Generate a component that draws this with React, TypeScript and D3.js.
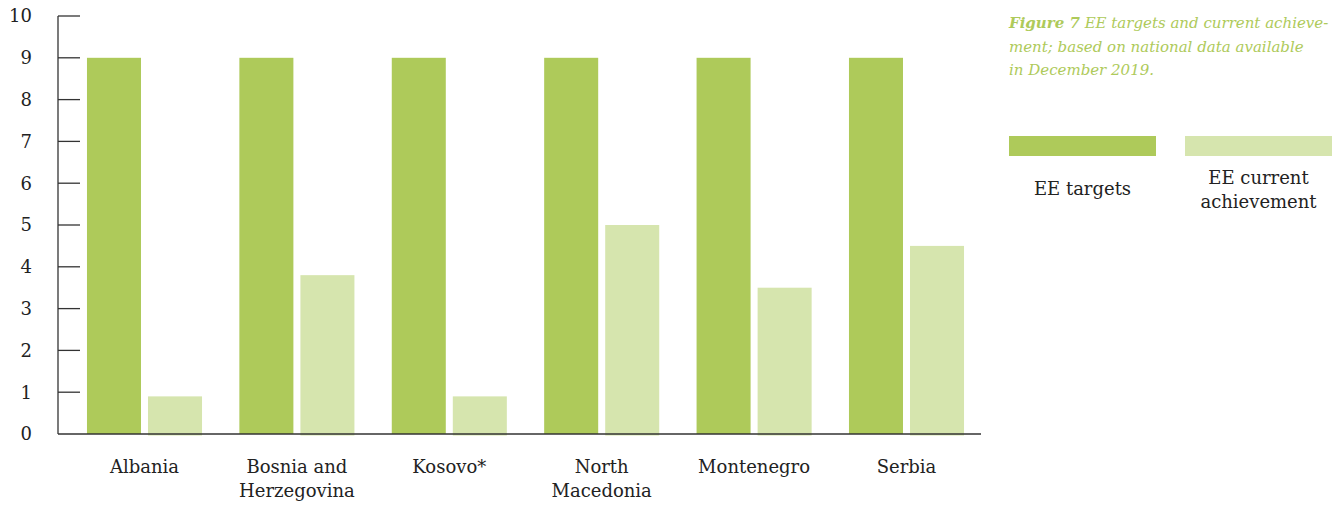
import React from "react";
import * as d3 from "d3";

const categories = ["Albania", "Bosnia and Herzegovina", "Kosovo*", "North Macedonia", "Montenegro", "Serbia"];
const categoryLines = [["Albania"], ["Bosnia and", "Herzegovina"], ["Kosovo*"], ["North", "Macedonia"], ["Montenegro"], ["Serbia"]];
const seriesNames = ["EE targets", "EE current achievement"];
const targets = [9, 9, 9, 9, 9, 9];
const achievement = [0.9, 3.8, 0.9, 5.0, 3.5, 4.5];
const yTicks = [0, 1, 2, 3, 4, 5, 6, 7, 8, 9, 10];
const titleLines = ["EE targets and current achieve-", "ment; based on national data available", "in December 2019."];

const colors = ["#aeca5a", "#d6e5ae"];
const FONT = "'DejaVu Serif', serif";
const TEXT = "#222";

export default function App() {
  const W = 1341, H = 508;
  const y = d3.scaleLinear().domain([0, 10]).range([434, 16]);
  const x0 = d3.scaleBand<string>().domain(categories).range([68.3, 982.7]).paddingInner(0.245).paddingOuter(0.1225);
  const x1 = d3.scaleBand<string>().domain(seriesNames).range([0, x0.bandwidth()]).paddingInner(0.115);
  const data = [targets, achievement];

  return (
    <svg width={W} height={H} style={{ position: "absolute", left: 0, top: 0, background: "#fff" }}>
      {categories.map((c, i) => (
        <g key={c} transform={`translate(${x0(c)},0)`}>
          {seriesNames.map((s, j) => (
            <rect key={s} x={x1(s)} y={y(data[j][i])} width={x1.bandwidth()} height={y(0) - y(data[j][i]) + (j === 1 ? 1.5 : 0)} fill={colors[j]} />
          ))}
        </g>
      ))}
      <line x1={58} x2={58} y1={y(10)} y2={y(0)} stroke="#333" strokeWidth={1.3} />
      <line x1={58} x2={981} y1={y(0)} y2={y(0)} stroke="#333" strokeWidth={1.3} />
      {yTicks.map((t) => (
        <g key={t}>
          {t > 0 && <line x1={58} x2={80} y1={y(t)} y2={y(t)} stroke="#333" strokeWidth={1.3} />}
          <text x={32} y={y(t)} dy="0.35em" textAnchor="end" fontFamily={FONT} fontSize={18} fill={TEXT}>{t}</text>
        </g>
      ))}
      {categories.map((c, i) => (
        <text key={c} x={(x0(c) as number) + x0.bandwidth() / 2} y={473} textAnchor="middle" fontFamily={FONT} fontSize={18} fill={TEXT}>
          {categoryLines[i].map((l, k) => (
            <tspan key={k} x={(x0(c) as number) + x0.bandwidth() / 2} dy={k === 0 ? 0 : 24}>{l}</tspan>
          ))}
        </text>
      ))}
      <text x={1009} y={28} fontFamily={FONT} fontStyle="italic" fontSize={15} fill="#aeca5a">
        <tspan fontWeight="bold">Figure 7</tspan> {titleLines[0]}
        <tspan x={1009} dy={23.5}>{titleLines[1]}</tspan>
        <tspan x={1009} dy={23.5}>{titleLines[2]}</tspan>
      </text>
      <rect x={1009} y={136} width={147} height={20} fill={colors[0]} />
      <rect x={1185} y={136} width={147} height={20} fill={colors[1]} />
      <text x={1082.5} y={195} textAnchor="middle" fontFamily={FONT} fontSize={18} fill={TEXT}>EE targets</text>
      <text x={1258.5} y={184} textAnchor="middle" fontFamily={FONT} fontSize={18} fill={TEXT}>
        <tspan x={1258.5}>EE current</tspan>
        <tspan x={1258.5} dy={24}>achievement</tspan>
      </text>
    </svg>
  );
}
